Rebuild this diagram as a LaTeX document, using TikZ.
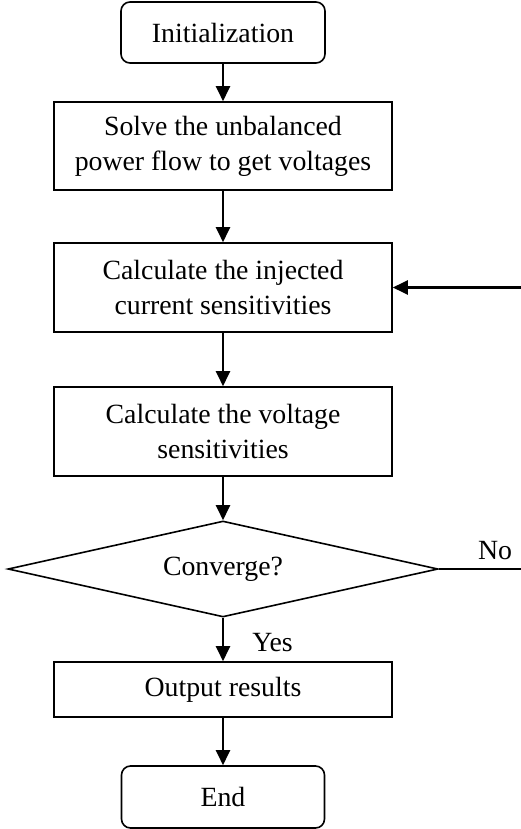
\documentclass[tikz,border=0pt]{standalone}
\usepackage{fontspec}
\setmainfont{Liberation Serif}
\usetikzlibrary{shapes.geometric,arrows.meta}
\begin{document}
\begin{tikzpicture}[x=1pt,y=-1pt,
  every node/.style={font=\fontsize{27.8}{35}\selectfont},
  procbox/.style={draw,line width=1.6pt,minimum width=338pt,inner sep=0pt,align=center},
  termbox/.style={draw,line width=1.6pt,rounded corners=9pt,minimum width=204pt,minimum height=61pt,inner sep=0pt},
  decbox/.style={draw,line width=1.6pt,diamond,aspect=4.48,minimum width=430pt,minimum height=96pt,inner sep=0pt},
  arr/.style={line width=2.3pt,-{Triangle[length=15pt,width=14pt]}},
  plainline/.style={line width=1.6pt},
  lbl/.style={inner sep=0pt}]
\useasboundingbox (0,0) rectangle (521,829);
\node[termbox] (init) at (223,32.5) {Initialization};
\node[procbox,minimum height=88pt] (b2) at (223,146) {Solve the unbalanced\\power flow to get voltages};
\node[procbox,minimum height=89pt] (b3) at (223,287.5) {Calculate the injected\\current sensitivities};
\node[procbox,minimum height=89pt] (b4) at (223,431.5) {Calculate the voltage\\sensitivities};
\node[decbox] (dec) at (223,569) {Converge?};
\node[procbox,minimum height=55pt] (out) at (223,689.5) {Output results};
\node[termbox,minimum width=203pt,minimum height=62pt] (fin) at (223,797) {End};
\node[lbl] (yes) at (272.5,643) {Yes};
\node[lbl] (no) at (495,551) {No};
\coordinate (fb) at (521,287.5);
\coordinate (noend) at (521,569);
\draw[arr] (init.south) -- (b2.north);
\draw[arr] (b2.south) -- (b3.north);
\draw[arr] (b3.south) -- (b4.north);
\draw[arr] (b4.south) -- (dec.north);
\draw[arr] (dec.south) -- (out.north);
\draw[arr] (out.south) -- (fin.north);
\draw[arr] (fb) -- (b3.east);
\draw[plainline] (dec.east) -- (noend);
\end{tikzpicture}
\end{document}
